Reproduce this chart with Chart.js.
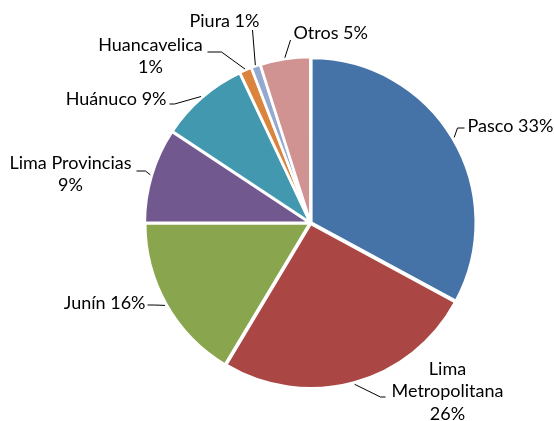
<!DOCTYPE html>
<html>
<head>
<meta charset="utf-8">
<script src="https://cdn.jsdelivr.net/npm/chart.js@4"></script>
<style>
  body { margin: 0; background: #fff; }
</style>
</head>
<body>
<canvas id="chart" width="554" height="421"></canvas>
<script>
// Data
const categories = ["Pasco", "Lima Metropolitana", "Junín", "Lima Provincias", "Huánuco", "Huancavelica", "Piura", "Otros"];
const shares = [32.9, 25.7, 16.4, 9.3, 8.7, 1.2, 0.9, 4.9];
const percentLabels = ["33%", "26%", "16%", "9%", "9%", "1%", "1%", "5%"];
const colors = ["#4572A7", "#AA4643", "#89A54E", "#71588F", "#4198AF", "#DB843D", "#93A9CF", "#D19392"];

// Label layout, offsets from the pie centre (elbow, tick end, text anchor)
const labelLayout = [
  { ex: 147, ey: -95, hx: 154, tx: 157, ty: -97, align: "left", wrap: "none" },
  { ex: 70, ey: 174, hx: 75, tx: 137, ty: 146, align: "center", wrap: "all" },
  { ex: -156, ey: 82, hx: -163, tx: -165, ty: 80, align: "right", wrap: "none" },
  { ex: -165, ey: -52, hx: -174, tx: -240, ty: -60, align: "center", wrap: "pct" },
  { ex: -136, ey: -119, hx: -141, tx: -144, ty: -124, align: "right", wrap: "none" },
  { ex: -89, ey: -171, hx: -103, tx: -160, ty: -178, align: "center", wrap: "pct" },
  { ex: -58, ey: -193, hx: null, tx: -86, ty: -202, align: "center", wrap: "none" },
  { ex: -20, ey: -183, hx: null, tx: -17, ty: -190, align: "left", wrap: "none" }
];

function labelLines(i) {
  const mode = labelLayout[i].wrap;
  if (mode === "all") return categories[i].split(" ").concat([percentLabels[i]]);
  if (mode === "pct") return [categories[i], percentLabels[i]];
  return [categories[i] + " " + percentLabels[i]];
}

// Draws the outside labels with leader lines
const outsideLabels = {
  id: "outsideLabels",
  afterDatasetsDraw(chart) {
    const ctx = chart.ctx;
    const meta = chart.getDatasetMeta(0);
    ctx.save();
    ctx.font = "18px Lato";
    ctx.fillStyle = "#000";
    ctx.strokeStyle = "#000";
    ctx.lineWidth = 1;
    ctx.textBaseline = "middle";
    meta.data.forEach((arc, i) => {
      const p = arc.getProps(["x", "y", "startAngle", "endAngle", "outerRadius"], true);
      const lay = labelLayout[i];
      const mid = (p.startAngle + p.endAngle) / 2;
      const r = p.outerRadius + 3;
      const sx = p.x + Math.cos(mid) * r;
      const sy = p.y + Math.sin(mid) * r;
      ctx.beginPath();
      ctx.moveTo(sx, sy);
      ctx.lineTo(p.x + lay.ex, p.y + lay.ey);
      if (lay.hx !== null) ctx.lineTo(p.x + lay.hx, p.y + lay.ey);
      ctx.stroke();
      ctx.textAlign = lay.align;
      labelLines(i).forEach((line, k) => {
        ctx.fillText(line, p.x + lay.tx, p.y + lay.ty + k * 22.5);
      });
    });
    ctx.restore();
  }
};

new Chart(document.getElementById("chart"), {
  type: "pie",
  data: {
    labels: categories,
    datasets: [{
      data: shares,
      backgroundColor: colors,
      borderColor: "#fff",
      borderWidth: 2.5,
      offset: 4
    }]
  },
  options: {
    responsive: false,
    animation: false,
    layout: { padding: { left: 143, right: 76, top: 55, bottom: 30 } },
    plugins: {
      legend: { display: false },
      tooltip: { enabled: false }
    }
  },
  plugins: [outsideLabels]
});
</script>
</body>
</html>
